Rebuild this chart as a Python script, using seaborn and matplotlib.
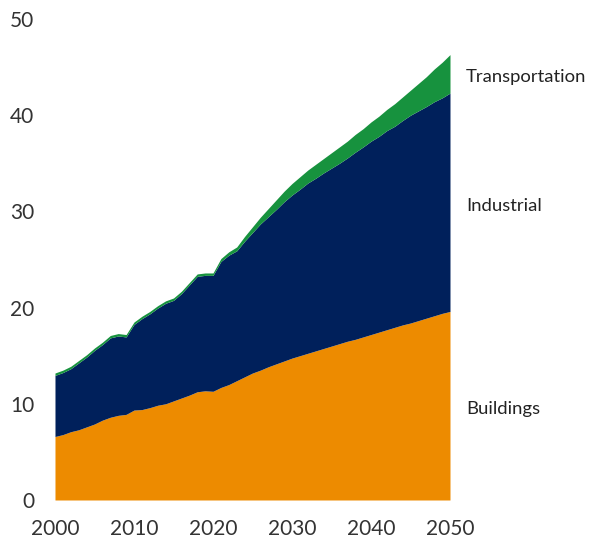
import matplotlib
matplotlib.use("Agg")
import matplotlib.pyplot as plt
import seaborn as sns
import numpy as np

# Final energy demand by sector, 2000-2050
years = list(range(2000, 2051))

buildings = [
    6.6, 6.8, 7.1, 7.3, 7.6, 7.9, 8.3, 8.6, 8.8, 8.9,
    9.35, 9.4, 9.6, 9.85, 10.0, 10.3, 10.6, 10.9, 11.25, 11.35,
    11.3, 11.7, 12.0, 12.4, 12.8, 13.2, 13.5, 13.85, 14.15, 14.45,
    14.75, 15.0, 15.25, 15.5, 15.75, 16.0, 16.25, 16.5, 16.7, 16.95,
    17.2, 17.45, 17.7, 17.95, 18.2, 18.4, 18.65, 18.9, 19.15, 19.4,
    19.6,
]

industrial = [
    6.35, 6.45, 6.55, 6.95, 7.25, 7.65, 7.85, 8.25, 8.25, 8.05,
    8.9, 9.45, 9.75, 10.1, 10.45, 10.45, 10.85, 11.45, 12.0, 12.0,
    12.05, 13.1, 13.45, 13.5, 14.1, 14.6, 15.2, 15.6, 16.05, 16.55,
    16.95, 17.3, 17.7, 17.95, 18.25, 18.5, 18.75, 19.05, 19.45, 19.75,
    20.1, 20.35, 20.7, 20.9, 21.25, 21.6, 21.8, 22.0, 22.25, 22.4,
    22.7,
]

transportation = [
    0.25, 0.25, 0.25, 0.25, 0.25, 0.25, 0.25, 0.25, 0.25, 0.25,
    0.25, 0.25, 0.25, 0.25, 0.25, 0.25, 0.25, 0.25, 0.25, 0.25,
    0.25, 0.3, 0.35, 0.4, 0.5, 0.6, 0.7, 0.85, 1.0, 1.1,
    1.2, 1.3, 1.35, 1.45, 1.5, 1.6, 1.7, 1.75, 1.85, 1.9,
    2.0, 2.1, 2.2, 2.35, 2.45, 2.6, 2.85, 3.1, 3.4, 3.7,
    4.0,
]

series_names = ["Buildings", "Industrial", "Transportation"]
colors = ["#ED8B00", "#00205B", "#17923E"]
x_ticks = [2000, 2010, 2020, 2030, 2040, 2050]
y_ticks = [0, 10, 20, 30, 40, 50]

sns.set_theme(style="white")
plt.rcParams["font.family"] = ["Lato", "DejaVu Sans"]

fig = plt.figure(figsize=(5.9, 5.43), dpi=100)
ax = fig.add_axes([0.0932, 0.0792, 0.6695, 0.8858])

ax.stackplot(years, buildings, industrial, transportation,
             colors=colors, linewidth=0, antialiased=True)

ax.set_xlim(2000, 2050)
ax.set_ylim(0, 50)
ax.set_xticks(x_ticks)
ax.set_yticks(y_ticks)
ax.tick_params(axis="both", length=0, labelsize=15, colors="#333333")
ax.tick_params(axis="y", pad=15)
ax.tick_params(axis="x", pad=14)
sns.despine(ax=ax, left=True, bottom=True)
ax.grid(False)

# Series labels to the right of the stack
label_y = [9.5, 30.6, 44.0]
for name, ypos in zip(series_names, label_y):
    ax.text(1.04, ypos, name, transform=ax.get_yaxis_transform(),
            ha="left", va="center", fontsize=13.3, color="#222222")

fig.savefig("out.png", dpi=100)
